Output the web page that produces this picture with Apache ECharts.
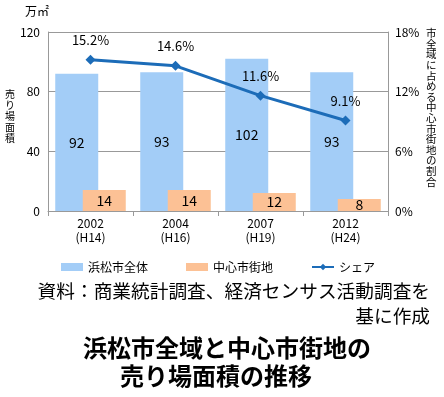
<!DOCTYPE html>
<html><head><meta charset="utf-8">
<script src="https://cdn.jsdelivr.net/npm/echarts@6/dist/echarts.min.js"></script>
<style>html,body{margin:0;padding:0;background:#fff}#c{width:444px;height:397px}</style>
</head><body><div id="c"></div>
<script>
const years = ['2002\n(H14)', '2004\n(H16)', '2007\n(H19)', '2012\n(H24)']
const cityTotal = [92, 93, 102, 93]
const central = [14, 14, 12, 8]
const share = [15.2, 14.6, 11.6, 9.1]
const leftTicks = { min: 0, max: 120, interval: 40 }
const rightTicks = { min: 0, max: 18, interval: 6 }
const font = '"Noto Sans CJK JP", "Noto Sans", sans-serif'
const vert = s => s.split('').join('\n')

const chart = echarts.init(document.getElementById('c'))
chart.setOption({
  backgroundColor: '#fff',
  textStyle: { fontFamily: font },
  animation: false,
  grid: { left: 48, right: 56, top: 32, bottom: 186 },
  legend: {
    top: 256, left: 56, itemGap: 38, itemWidth: 22, itemHeight: 8,
    textStyle: { fontSize: 12, color: '#000', fontFamily: font },
    data: [
      { name: '浜松市全体', icon: 'rect' },
      { name: '中心市街地', icon: 'rect' },
      { name: 'シェア' }
    ]
  },
  xAxis: {
    type: 'category', data: years,
    axisLine: { lineStyle: { color: '#999' } },
    axisTick: { show: true, lineStyle: { color: '#999' } },
    axisLabel: { color: '#000', fontSize: 12, lineHeight: 14, margin: 5 }
  },
  yAxis: [
    { type: 'value', ...leftTicks,
      axisLine: { show: true, lineStyle: { color: '#999' } },
      axisLabel: { color: '#000', fontSize: 12, margin: 8 },
      splitLine: { lineStyle: { color: '#999' } } },
    { type: 'value', ...rightTicks,
      axisLine: { show: true, lineStyle: { color: '#999' } },
      axisLabel: { color: '#000', fontSize: 12, formatter: '{value}%', margin: 7 },
      splitLine: { show: false } }
  ],
  series: [
    { name: '浜松市全体', type: 'bar', data: cityTotal, barWidth: 43, barGap: '-36%', barCategoryGap: '18%',
      itemStyle: { color: '#a3cdf7' },
      label: { show: true, position: 'inside', color: '#000', fontSize: 14 } },
    { name: '中心市街地', type: 'bar', data: central, barWidth: 43,
      itemStyle: { color: '#fcc195' },
      label: { show: true, position: 'inside', color: '#000', fontSize: 14 } },
    { name: 'シェア', type: 'line', yAxisIndex: 1, data: share,
      symbol: 'diamond', symbolSize: 10,
      lineStyle: { color: '#1c6cb8', width: 3 }, itemStyle: { color: '#1c6cb8' },
      label: { show: true, position: 'top', distance: 8, color: '#000', fontSize: 13, formatter: p => p.value + '%' } }
  ],
  graphic: [
    { type: 'text', left: 25, top: 5, style: { text: '万㎡', fill: '#000', fontSize: 12, fontFamily: font } },
    { type: 'text', left: 5, top: 89, style: { text: vert('売り場面積'), fill: '#000', fontSize: 10, fontFamily: font, lineHeight: 11 } },
    { type: 'text', left: 426, top: 28, style: { text: vert('市全域に占める中心市街地の割合'), fill: '#000', fontSize: 10.5, fontFamily: font, lineHeight: 10.6 } },
    { type: 'text', right: 14, top: 282, style: { text: '資料：商業統計調査、経済センサス活動調査を', fill: '#000', fontSize: 18.7, fontFamily: font } },
    { type: 'text', right: 14, top: 307, style: { text: '基に作成', fill: '#000', fontSize: 18.7, fontFamily: font } },
    { type: 'text', left: 83, top: 336, style: { text: '浜松市全域と中心市街地の', fill: '#000', fontSize: 24, fontWeight: 'bold', fontFamily: font } },
    { type: 'text', left: 120, top: 364, style: { text: '売り場面積の推移', fill: '#000', fontSize: 24, fontWeight: 'bold', fontFamily: font } }
  ]
})
</script></body></html>
